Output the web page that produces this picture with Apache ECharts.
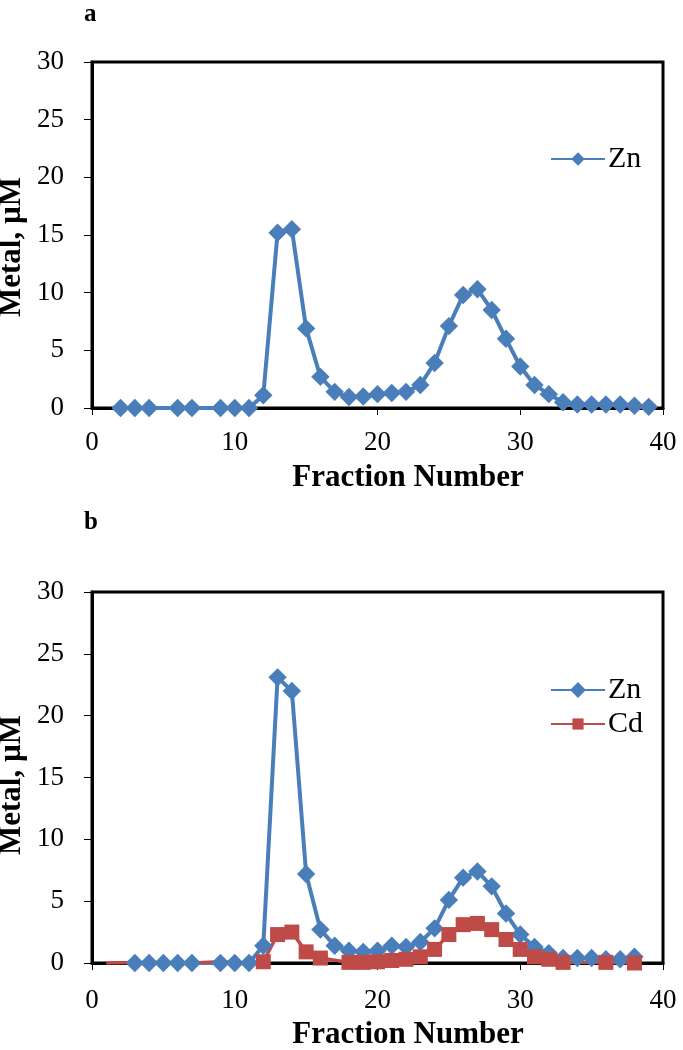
<!DOCTYPE html>
<html><head><meta charset="utf-8">
<script src="https://cdn.jsdelivr.net/npm/echarts@6/dist/echarts.min.js"></script>
<style>html,body{margin:0;padding:0;background:#fff}#c{width:683px;height:1050px}</style>
</head><body><div id="c"></div>
<script>
// Panel a: Zn
const aX = [2,3,4,6,7,9,10,11,12,13,14,15,16,17,18,19,20,21,22,23,24,25,26,27,28,29,30,31,32,33,34,35,36,37,38,39];
const aZn = [0,0,0,0,0,0,0,0,1.1,15.2,15.5,6.9,2.7,1.4,0.95,1.0,1.2,1.3,1.4,2.0,3.9,7.1,9.8,10.3,8.5,6.0,3.6,2.0,1.2,0.5,0.3,0.3,0.3,0.3,0.2,0.1];
// Panel b: Zn
const bZnX = [3,4,5,6,7,9,10,11,12,13,14,15,16,17,18,19,20,21,22,23,24,25,26,27,28,29,30,31,32,33,34,35,36,37,38];
const bZn = [0,0,0,0,0,0,0,0,1.4,23.1,22.0,7.2,2.7,1.4,1.0,0.9,1.0,1.4,1.3,1.7,2.8,5.1,6.9,7.4,6.2,4.0,2.3,1.3,0.8,0.4,0.4,0.4,0.3,0.3,0.5];
// Panel b: Cd
const bCdX = [1,3,5,7,9,11,12,13,14,15,16,18,19,20,21,22,23,24,25,26,27,28,29,30,31,32,33,36,38];
const bCd = [0,0.05,0.05,0,0.1,0,0.1,2.3,2.5,0.9,0.4,0.05,0.05,0.1,0.2,0.3,0.5,1.1,2.3,3.1,3.2,2.7,1.9,1.1,0.5,0.3,0.05,0.05,0];
const yTicks = [0,5,10,15,20,25,30];
const xTicks = [0,10,20,30,40];
const yName = 'Metal, µM';
const xName = 'Fraction Number';

const F = 'Liberation Serif, Times New Roman, serif';
const blue = '#4a7ebb', red = '#be4b48';
const pair = (xs, ys) => xs.map((x, i) => [x, ys[i]]);

function xAxis(gi, labMargin) {
  return {gridIndex: gi, type: 'value', min: xTicks[0], max: xTicks[xTicks.length-1], interval: 10,
    axisLine: {lineStyle: {color: '#000', width: 3}},
    axisTick: {show: true, inside: false, length: 7, lineStyle: {color: '#000', width: 1}},
    axisLabel: {fontFamily: F, fontSize: 27, color: '#000', margin: labMargin},
    splitLine: {show: false}};
}
function yAxis(gi) {
  return {gridIndex: gi, type: 'value', min: yTicks[0], max: yTicks[yTicks.length-1], interval: 5,
    axisLine: {lineStyle: {color: '#000', width: 3}},
    axisTick: {show: true, inside: false, length: 8, lineStyle: {color: '#000', width: 1}},
    axisLabel: {fontFamily: F, fontSize: 27, color: '#000', margin: 28},
    splitLine: {show: false}};
}
function yTitle(cy) {
  return {type: 'text', x: 12, y: cy, rotation: Math.PI / 2, originX: 0, originY: 0,
    style: {text: yName, fontFamily: F, fontSize: 31, fontWeight: 'bold', fill: '#000',
      textAlign: 'center', textVerticalAlign: 'middle'}};
}
function xTitle(cy) {
  return {type: 'text', x: 408, y: cy,
    style: {text: xName, fontFamily: F, fontSize: 31, fontWeight: 'bold', fill: '#000',
      textAlign: 'center', textVerticalAlign: 'middle'}};
}

const chart = echarts.init(document.getElementById('c'), null, {renderer: 'canvas'});
chart.setOption({
  animation: false,
  backgroundColor: '#fff',
  title: [
    {text: 'a', left: 79, top: -3, textStyle: {fontFamily: F, fontSize: 25, fontWeight: 'bold', color: '#000'}},
    {text: 'b', left: 79, top: 505, textStyle: {fontFamily: F, fontSize: 25, fontWeight: 'bold', color: '#000'}}
  ],
  graphic: [yTitle(247), yTitle(785), xTitle(478), xTitle(1035)],
  grid: [
    {left: 92, top: 62, width: 571, height: 346, show: true, borderColor: '#000', borderWidth: 3, containLabel: false},
    {left: 92, top: 592, width: 571, height: 371, show: true, borderColor: '#000', borderWidth: 3, containLabel: false}
  ],
  xAxis: [xAxis(0, 21), xAxis(1, 24)],
  yAxis: [yAxis(0), yAxis(1)],
  legend: [
    {data: ['Zn'], left: 545, top: 139, itemWidth: 54, itemHeight: 12, itemGap: 10,
     textStyle: {fontFamily: F, fontSize: 30, color: '#000', padding: [0, 0, 0, -2]}},
    {data: ['Zn', 'Cd'], orient: 'vertical', left: 545, top: 670, itemWidth: 54, itemHeight: 14, itemGap: 4,
     textStyle: {fontFamily: F, fontSize: 30, color: '#000', padding: [0, 0, 0, -2]}}
  ],
  series: [
    {name: 'Zn', type: 'line', xAxisIndex: 0, yAxisIndex: 0, data: pair(aX, aZn),
     symbol: 'rect', symbolRotate: 45, symbolSize: 13, color: blue,
     lineStyle: {color: blue, width: 4}, itemStyle: {color: blue}},
    {name: 'Zn', type: 'line', xAxisIndex: 1, yAxisIndex: 1, data: pair(bZnX, bZn),
     symbol: 'rect', symbolRotate: 45, symbolSize: 13, color: blue,
     lineStyle: {color: blue, width: 4}, itemStyle: {color: blue}},
    {name: 'Cd', type: 'line', xAxisIndex: 1, yAxisIndex: 1,
     data: pair(bCdX, bCd).map(p => p[0] < 12 ? {value: p, symbolSize: 0} : p),
     symbol: 'rect', symbolSize: 15, color: red,
     lineStyle: {color: red, width: 3.5}, itemStyle: {color: red}}
  ]
});
</script></body></html>
